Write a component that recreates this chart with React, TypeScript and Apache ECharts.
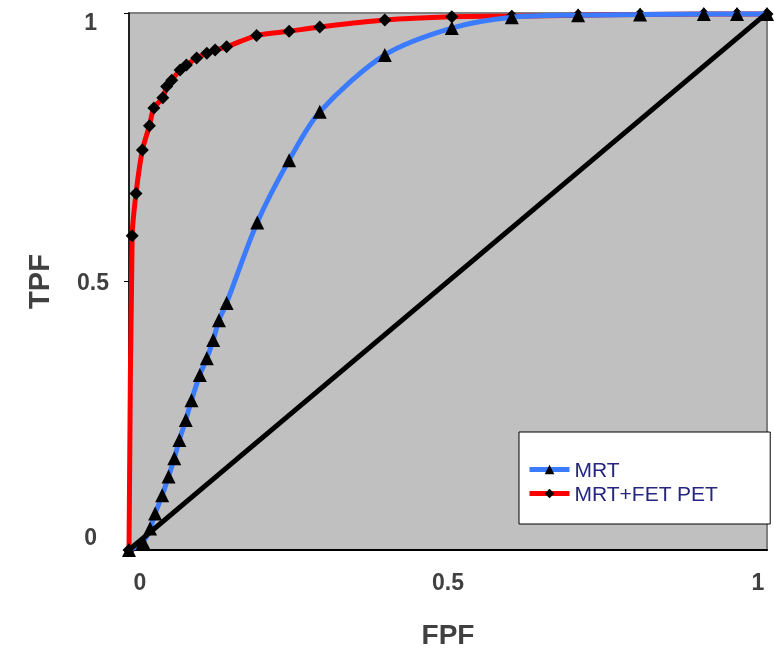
import { useEffect, useRef } from "react";
import * as echarts from "echarts";

const seriesNames = ["MRT", "MRT+FET PET"];

const mrtFPF = [0, 0.022, 0.033, 0.041, 0.052, 0.062, 0.071, 0.079, 0.089, 0.098, 0.111, 0.122, 0.132, 0.141, 0.153, 0.201, 0.251, 0.299, 0.401, 0.506, 0.6, 0.704, 0.801, 0.901, 0.953, 1.0];
const mrtTPF = [0, 0.015, 0.04, 0.068, 0.102, 0.137, 0.171, 0.205, 0.242, 0.279, 0.326, 0.357, 0.391, 0.428, 0.46, 0.61, 0.726, 0.816, 0.922, 0.972, 0.992, 0.996, 0.997, 0.998, 0.998, 0.998];

const petFPF = [0, 0.005, 0.011, 0.021, 0.032, 0.039, 0.053, 0.059, 0.067, 0.08, 0.09, 0.106, 0.122, 0.135, 0.153, 0.2, 0.251, 0.299, 0.401, 0.506, 0.6, 0.704, 0.801, 0.901, 0.953, 1.0];
const petTPF = [0, 0.585, 0.664, 0.745, 0.79, 0.823, 0.842, 0.863, 0.875, 0.894, 0.903, 0.916, 0.925, 0.931, 0.937, 0.958, 0.966, 0.974, 0.987, 0.993, 0.994, 0.996, 0.997, 0.998, 0.998, 0.998];

const diagFPF = [0, 1];
const diagTPF = [0, 1];

const axisTicks = [0, 0.5, 1];

const zip = (a: number[], b: number[]) => a.map((v, i) => [v, b[i]]);

const FONT = "Liberation Sans";
const labelBase = { fontFamily: FONT, fontSize: 23, fontWeight: "bold" as const, color: "#404040" };

export default function App() {
  const ref = useRef<HTMLDivElement>(null);
  useEffect(() => {
    if (!ref.current) return;
    const chart = echarts.init(ref.current, null, { renderer: "svg" });
    chart.setOption({
      animation: false,
      grid: {
        left: 129,
        right: 7,
        top: 13,
        bottom: 103,
        show: true,
        backgroundColor: "#c0c0c0",
        borderColor: "#808080",
        borderWidth: 2,
      },
      legend: {
        data: seriesNames,
        orient: "vertical",
        left: 519,
        top: 432,
        backgroundColor: "#ffffff",
        borderColor: "#000000",
        borderWidth: 1,
        borderRadius: 0,
        padding: [27, 52, 20, 8],
        itemGap: 3,
        itemWidth: 40,
        itemHeight: 12,
        lineStyle: { width: 5 },
        textStyle: { color: "#262680", fontSize: 21, fontFamily: FONT },
      },
      xAxis: {
        type: "value",
        min: axisTicks[0],
        max: axisTicks[axisTicks.length - 1],
        interval: 0.5,
        splitLine: { show: false },
        axisLine: { show: true, lineStyle: { color: "#000", width: 2 } },
        axisTick: { show: false },
        axisLabel: {
          margin: 20,
          ...labelBase,
          formatter: (v: number) => (v === 0 ? "{l|0}" : v === 1 ? "{r|1}" : "{m|" + v + "}"),
          rich: {
            l: { ...labelBase, padding: [0, 0, 0, 22] },
            r: { ...labelBase, padding: [0, 18, 0, 0] },
            m: { ...labelBase },
          },
        },
        name: "FPF",
        nameLocation: "middle",
        nameGap: 70,
        nameTextStyle: { fontFamily: FONT, fontSize: 28, fontWeight: "bold", color: "#404040" },
      },
      yAxis: {
        type: "value",
        min: axisTicks[0],
        max: axisTicks[axisTicks.length - 1],
        interval: 0.5,
        splitLine: { show: false },
        axisLine: { show: true, lineStyle: { color: "#000", width: 1.5 } },
        axisTick: { show: true, length: 5, lineStyle: { color: "#000" } },
        axisLabel: {
          margin: 20,
          ...labelBase,
          formatter: (v: number) => (v === 1 ? "{t|1}" : v === 0 ? "{b|0}" : "{m|" + v + "}"),
          rich: {
            t: { ...labelBase, padding: [18, 12, 0, 0] },
            b: { ...labelBase, padding: [0, 12, 26, 0] },
            m: { ...labelBase },
          },
        },
        name: "TPF",
        nameLocation: "middle",
        nameGap: 76,
        nameRotate: 90,
        nameTextStyle: { fontFamily: FONT, fontSize: 29, fontWeight: "bold", color: "#404040" },
      },
      series: [
        {
          name: seriesNames[1],
          type: "line",
          data: zip(petFPF, petTPF),
          smooth: 0.3,
          symbol: "diamond",
          symbolSize: 13,
          itemStyle: { color: "#000" },
          lineStyle: { color: "#ff0000", width: 5 },
          z: 2,
        },
        {
          name: seriesNames[0],
          type: "line",
          data: zip(mrtFPF, mrtTPF),
          smooth: 0.3,
          symbol: "triangle",
          symbolSize: 14,
          itemStyle: { color: "#000" },
          lineStyle: { color: "#3b7bff", width: 5 },
          z: 3,
        },
        {
          name: "diag",
          type: "line",
          data: zip(diagFPF, diagTPF),
          symbol: "none",
          lineStyle: { color: "#000", width: 5 },
          z: 4,
        },
      ],
    });
    return () => chart.dispose();
  }, []);
  return <div ref={ref} style={{ position: "fixed", left: 0, top: 0, width: 774, height: 653 }} />;
}
